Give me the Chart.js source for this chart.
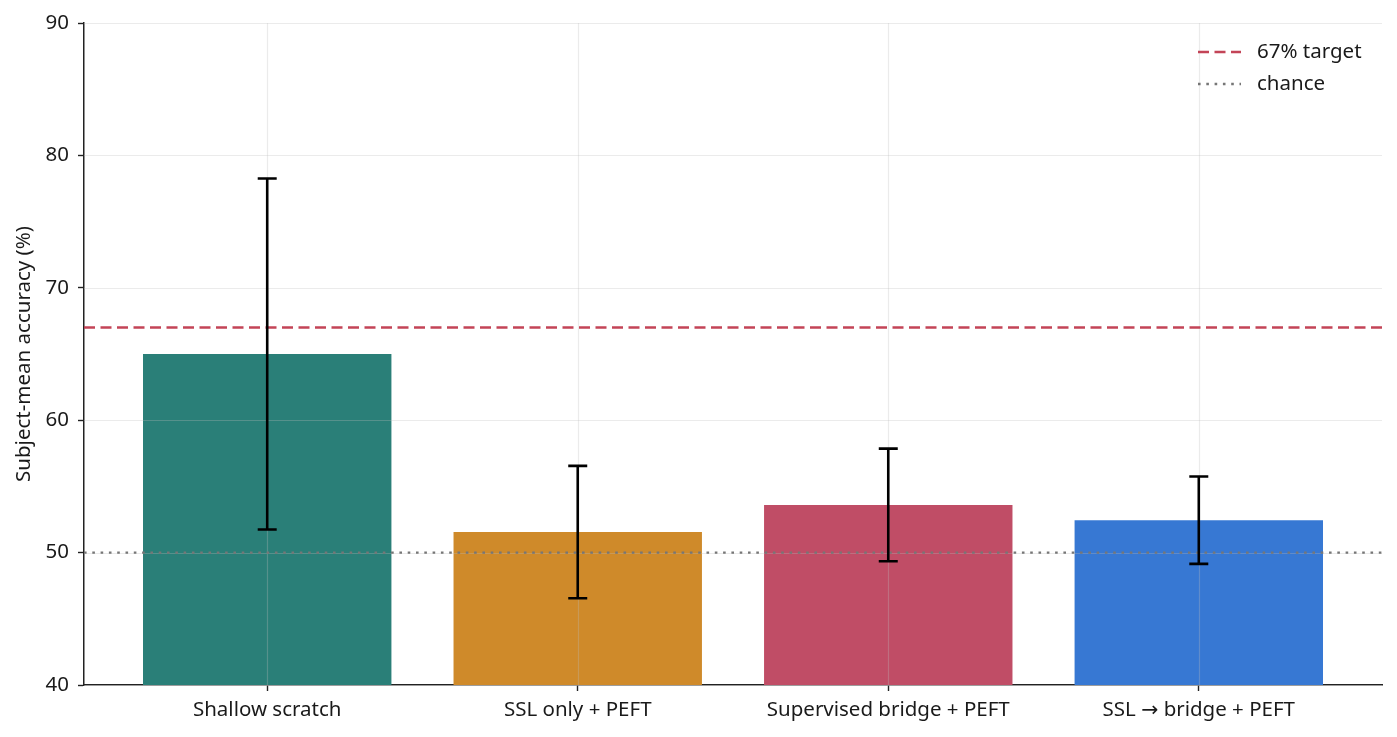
<!DOCTYPE html>
<html><head><meta charset="utf-8">
<script src="https://cdn.jsdelivr.net/npm/chart.js@4/dist/chart.umd.min.js"></script>
<style>html,body{margin:0;padding:0;background:#fff;}#wrap{width:1397px;height:737px;}</style>
</head><body><div id="wrap"><canvas id="c" width="1397" height="737"></canvas></div>
<script>
const categories = ['Shallow scratch', 'SSL only + PEFT', 'Supervised bridge + PEFT', 'SSL \u2192 bridge + PEFT'];
const meanAccuracy = [65.0, 51.55, 53.6, 52.45];
const stdAccuracy = [13.25, 5.0, 4.25, 3.3];
const barColors = ['#2a7f78', '#cf8a2a', '#c04d66', '#3778d3'];
const yTicks = [40, 50, 60, 70, 80, 90];
const targetAccuracy = 67;
const chanceAccuracy = 50;
const xRange = [-0.59, 3.59];
const legendLabels = ['67% target', 'chance'];

const FONT = "'Noto Sans', 'Open Sans', 'DejaVu Sans', sans-serif";
const TEXT = '#1a1a1a';
const AXIS = '#222222';

const gridOverBars = {
  id: 'gridOverBars',
  afterDatasetDraw(chart, args) {
    if (args.index !== 0) return;
    const { ctx, chartArea: a, scales: { x, y } } = chart;
    ctx.save();
    ctx.strokeStyle = 'rgba(190,190,190,0.3)';
    ctx.lineWidth = 1.2;
    yTicks.forEach(v => {
      const py = Math.round(y.getPixelForValue(v)) + 0.5;
      ctx.beginPath(); ctx.moveTo(a.left, py); ctx.lineTo(a.right, py); ctx.stroke();
    });
    categories.forEach((_, i) => {
      const px = Math.round(x.getPixelForValue(i)) + 0.5;
      ctx.beginPath(); ctx.moveTo(px, a.top); ctx.lineTo(px, a.bottom); ctx.stroke();
    });
    ctx.restore();
  }
};

const errorBars = {
  id: 'errorBars',
  afterDatasetsDraw(chart) {
    const { ctx, scales: { x, y } } = chart;
    ctx.save();
    ctx.strokeStyle = '#000';
    ctx.lineWidth = 2.6;
    meanAccuracy.forEach((m, i) => {
      const px = x.getPixelForValue(i);
      const lo = y.getPixelForValue(m - stdAccuracy[i]);
      const hi = y.getPixelForValue(m + stdAccuracy[i]);
      ctx.beginPath();
      ctx.moveTo(px, lo); ctx.lineTo(px, hi);
      ctx.moveTo(px - 9.5, lo); ctx.lineTo(px + 9.5, lo);
      ctx.moveTo(px - 9.5, hi); ctx.lineTo(px + 9.5, hi);
      ctx.stroke();
    });
    ctx.restore();
  }
};

const customLegend = {
  id: 'customLegend',
  afterDraw(chart) {
    const { ctx, chartArea: a } = chart;
    const ds = chart.data.datasets.slice(1);
    ctx.save();
    ctx.font = '20.5px ' + FONT;
    ctx.textBaseline = 'middle';
    ctx.textAlign = 'left';
    ds.forEach((d, i) => {
      const yy = a.top + 29 + i * 32;
      const x0 = a.right - 184;
      ctx.strokeStyle = d.borderColor;
      ctx.lineWidth = d.borderWidth;
      ctx.setLineDash(d.borderDash);
      ctx.beginPath(); ctx.moveTo(x0, yy); ctx.lineTo(x0 + 43, yy); ctx.stroke();
      ctx.setLineDash([]);
      ctx.fillStyle = TEXT;
      ctx.fillText(legendLabels[i], x0 + 59, yy);
    });
    ctx.restore();
  }
};

new Chart(document.getElementById('c'), {
  type: 'bar',
  data: {
    datasets: [
      {
        type: 'bar',
        data: meanAccuracy.map((v, i) => ({ x: i, y: v })),
        backgroundColor: barColors,
        borderWidth: 0,
        barPercentage: 0.8,
        categoryPercentage: 1.0,
        order: 3
      },
      {
        type: 'line',
        data: xRange.map(v => ({ x: v, y: targetAccuracy })),
        borderColor: 'rgba(192,58,78,0.95)',
        borderWidth: 2.4,
        borderDash: [11, 5.5],
        pointRadius: 0,
        order: 2
      },
      {
        type: 'line',
        data: xRange.map(v => ({ x: v, y: chanceAccuracy })),
        borderColor: '#767676',
        borderWidth: 2.4,
        borderDash: [2.6, 5.7],
        pointRadius: 0,
        order: 1
      }
    ]
  },
  options: {
    responsive: false,
    animation: false,
    devicePixelRatio: 1,
    layout: { padding: { top: 23, right: 15, left: 0, bottom: 0 } },
    plugins: { legend: { display: false }, tooltip: { enabled: false } },
    scales: {
      x: {
        type: 'linear',
        offset: false,
        min: xRange[0],
        max: xRange[1],
        afterBuildTicks: s => { s.ticks = categories.map((_, i) => ({ value: i })); },
        afterFit: s => { s.height = 52; },
        ticks: {
          callback: v => categories[v],
          autoSkip: false, maxRotation: 0,
          font: { family: FONT, size: 20.5 }, color: TEXT, padding: 7
        },
        grid: { display: true, offset: false, drawOnChartArea: false, drawTicks: true, tickLength: 6, tickColor: AXIS, tickWidth: 1.4 },
        border: { display: true, color: AXIS, width: 1.5 }
      },
      y: {
        min: 40, max: 90,
        afterBuildTicks: s => { s.ticks = yTicks.map(v => ({ value: v })); },
        afterFit: s => { s.width = 84; },
        ticks: { font: { family: FONT, size: 20.5 }, color: TEXT, padding: 9 },
        title: { display: true, text: 'Subject-mean accuracy (%)', font: { family: FONT, size: 20.5 }, color: TEXT, padding: { top: 12, bottom: 0 } },
        grid: { display: true, drawOnChartArea: false, drawTicks: true, tickLength: 6, tickColor: AXIS, tickWidth: 1.4 },
        border: { display: true, color: AXIS, width: 1.5 }
      }
    }
  },
  plugins: [gridOverBars, errorBars, customLegend]
});
</script></body></html>
